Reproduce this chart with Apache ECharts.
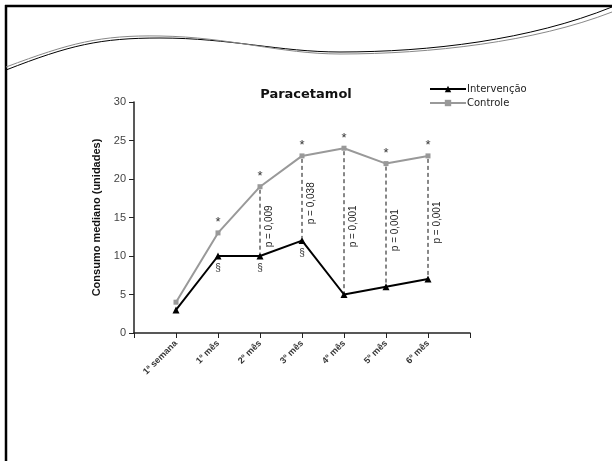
<!DOCTYPE html>
<html>
<head>
<meta charset="utf-8">
<script src="https://cdn.jsdelivr.net/npm/echarts@6/dist/echarts.min.js"></script>
<style>
  html, body { margin: 0; padding: 0; background: #fff; }
  #chart { width: 612px; height: 461px; }
</style>
</head>
<body>
<div id="chart"></div>
<script>
// dados
const categories = ['1ª semana', '1º mês', '2º mês', '3º mês', '4º mês', '5º mês', '6º mês']
const intervencao = [3, 10, 10, 12, 5, 6, 7]
const controle = [4, 13, 19, 23, 24, 22, 23]
const controleMarks = ['', '*', '*', '*', '*', '*', '*']
const intervencaoMarks = ['', '§', '§', '§', '', '', '']
const pCategories = ['2º mês', '3º mês', '4º mês', '5º mês', '6º mês']
const pLabels = ['p = 0,009', 'p = 0,038', 'p = 0,001', 'p = 0,001', 'p = 0,001']
const yTicks = [0, 5, 10, 15, 20, 25, 30]

const font = '"Liberation Sans", Arial, sans-serif'
const wideFont = '"DejaVu Sans", sans-serif'

// eixo com uma categoria vazia em cada ponta
const axisCategories = [' ', ...categories, '  ']

const chart = echarts.init(document.getElementById('chart'), null, { renderer: 'canvas' })

const pData = pCategories.map((c, i) => {
  const k = categories.indexOf(c)
  return [c, controle[k], intervencao[k], pLabels[i]]
})

const option = {
  backgroundColor: '#fff',
  animation: false,
  title: {
    text: 'Paracetamol',
    left: 301,
    textAlign: 'center',
    top: 83,
    textStyle: { fontFamily: wideFont, fontSize: 13, fontWeight: 'bold', color: '#111' }
  },
  legend: {
    orient: 'vertical',
    left: 424,
    top: 79,
    itemWidth: 36,
    itemHeight: 8,
    itemGap: 4,
    textStyle: { fontFamily: wideFont, fontSize: 10, color: '#222', padding: [0, 0, 0, -4] },
    data: ['Intervenção', 'Controle']
  },
  grid: { left: 134, right: 142, top: 102, bottom: 128 },
  xAxis: {
    type: 'category',
    data: axisCategories,
    boundaryGap: false,
    axisLine: { lineStyle: { color: '#222', width: 1.5 } },
    axisTick: { show: true, length: 5, interval: 0, lineStyle: { color: '#222' } },
    axisLabel: {
      interval: 0,
      rotate: 45,
      margin: 9,
      fontFamily: font,
      fontSize: 9,
      fontWeight: 'bold',
      color: '#333'
    },
    splitLine: { show: false }
  },
  yAxis: {
    type: 'value',
    min: yTicks[0],
    max: yTicks[yTicks.length - 1],
    interval: 5,
    name: 'Consumo mediano (unidades)',
    nameLocation: 'middle',
    nameGap: 27,
    nameTextStyle: { fontFamily: font, fontSize: 11, fontWeight: 'bold', color: '#111' },
    axisLine: { show: true, lineStyle: { color: '#222', width: 1.5 } },
    axisTick: { show: true, length: 5, lineStyle: { color: '#222' } },
    axisLabel: { fontFamily: font, fontSize: 11, color: '#444', margin: 8 },
    splitLine: { show: false }
  },
  series: [
    {
      name: 'Intervenção',
      type: 'line',
      data: categories.map((c, i) => [c, intervencao[i]]),
      symbol: 'triangle',
      symbolSize: 7,
      lineStyle: { color: '#000', width: 2 },
      itemStyle: { color: '#000' },
      label: {
        show: true,
        position: 'bottom',
        distance: 4,
        fontFamily: font,
        fontSize: 10,
        color: '#333',
        formatter: p => intervencaoMarks[p.dataIndex]
      },
      z: 3
    },
    {
      name: 'Controle',
      type: 'line',
      data: categories.map((c, i) => [c, controle[i]]),
      symbol: 'rect',
      symbolSize: 5,
      lineStyle: { color: '#999', width: 2 },
      itemStyle: { color: '#999' },
      label: {
        show: true,
        position: 'top',
        distance: 1,
        fontFamily: font,
        fontSize: 13,
        color: '#333',
        formatter: p => controleMarks[p.dataIndex]
      },
      z: 3
    },
    {
      // linhas tracejadas e valores de p
      type: 'custom',
      data: pData,
      z: 2,
      renderItem: (params, api) => {
        const top = api.coord([api.value(0), api.value(1)])
        const bottom = api.coord([api.value(0), api.value(2)])
        const mid = (top[1] + bottom[1]) / 2 + 5
        return {
          type: 'group',
          children: [
            {
              type: 'line',
              shape: { x1: top[0], y1: top[1] + 3, x2: bottom[0], y2: bottom[1] - 3 },
              style: { stroke: '#111', lineWidth: 1, lineDash: [4, 3] }
            },
            {
              type: 'text',
              x: top[0] + 9,
              y: mid,
              rotation: Math.PI / 2,
              style: {
                text: pData[params.dataIndex][3],
                fontFamily: font,
                fontSize: 10,
                fill: '#222',
                align: 'center',
                verticalAlign: 'middle'
              }
            }
          ]
        }
      }
    }
  ],
  graphic: [
    // moldura do slide
    { type: 'line', shape: { x1: 5, y1: 6, x2: 612, y2: 6 }, style: { stroke: '#000', lineWidth: 2.5 } },
    { type: 'line', shape: { x1: 6, y1: 5, x2: 6, y2: 461 }, style: { stroke: '#000', lineWidth: 2.5 } },
    // ondas decorativas
    {
      type: 'bezierCurve',
      shape: { x1: 6, y1: 70, cpx1: 70, cpy1: 45, cpx2: 100, cpy2: 38, x2: 160, y2: 38 },
      style: { stroke: '#000', lineWidth: 1, fill: null }
    },
    {
      type: 'bezierCurve',
      shape: { x1: 6, y1: 67, cpx1: 70, cpy1: 43, cpx2: 100, cpy2: 35, x2: 160, y2: 36 },
      style: { stroke: '#888', lineWidth: 1, fill: null }
    },
    {
      type: 'bezierCurve',
      shape: { x1: 160, y1: 38, cpx1: 230, cpy1: 38, cpx2: 280, cpy2: 52, x2: 340, y2: 52 },
      style: { stroke: '#000', lineWidth: 1, fill: null }
    },
    {
      type: 'bezierCurve',
      shape: { x1: 160, y1: 36, cpx1: 230, cpy1: 37, cpx2: 280, cpy2: 54, x2: 340, y2: 54 },
      style: { stroke: '#888', lineWidth: 1, fill: null }
    },
    {
      type: 'bezierCurve',
      shape: { x1: 340, y1: 52, cpx1: 430, cpy1: 52, cpx2: 530, cpy2: 40, x2: 612, y2: 7 },
      style: { stroke: '#000', lineWidth: 1, fill: null }
    },
    {
      type: 'bezierCurve',
      shape: { x1: 340, y1: 54, cpx1: 430, cpy1: 54, cpx2: 535, cpy2: 42, x2: 612, y2: 12 },
      style: { stroke: '#888', lineWidth: 1, fill: null }
    }
  ]
}

chart.setOption(option)
</script>
</body>
</html>
